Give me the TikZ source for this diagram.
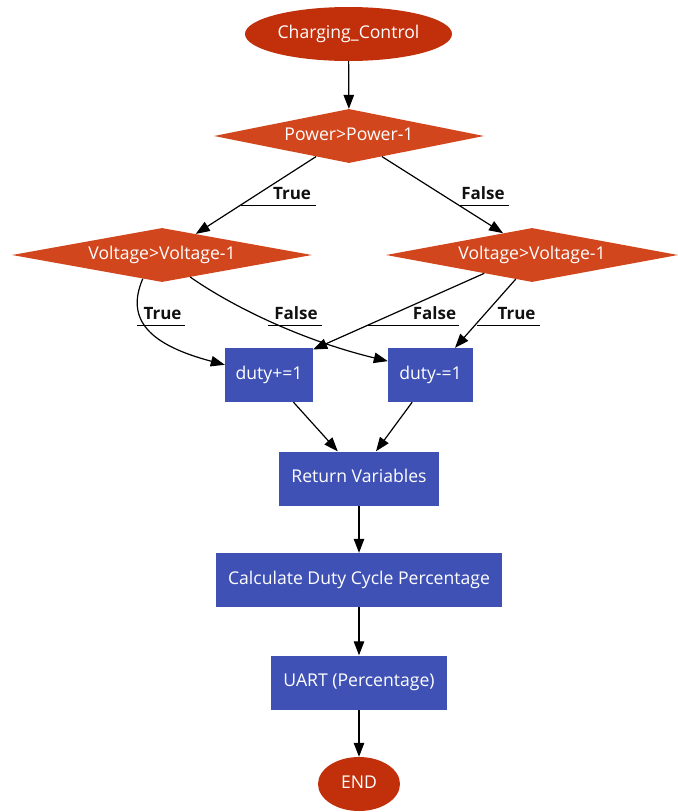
\documentclass[tikz,border=0pt]{standalone}
\usepackage{fontspec}
\setmainfont{Open Sans}
\usetikzlibrary{shapes.geometric,arrows.meta}
\definecolor{termred}{HTML}{C1300B}
\definecolor{decred}{HTML}{D2461D}
\definecolor{stepblue}{HTML}{3F51B5}
\definecolor{labelink}{HTML}{111111}

\begin{document}
\begin{tikzpicture}[x=1pt,y=-1pt,
  nodetext/.style={font=\fontsize{17.6}{20}\selectfont, text=white,
    inner sep=0pt, text height=12.5pt, text depth=4pt},
  term/.style={nodetext, ellipse, fill=termred, minimum width=#1, minimum height=54pt},
  decision/.style={nodetext, diamond, aspect=5, fill=decred, minimum width=#1, minimum height=54pt},
  stepbox/.style={nodetext, rectangle, fill=stepblue, minimum width=#1, minimum height=54pt},
  flow/.style={line width=1.2pt, -{Triangle[length=14pt,width=10.5pt]}},
  tag/.style={font=\bfseries\fontsize{17}{20}\selectfont, text=labelink, inner sep=0pt, anchor=base},
  tagline/.style={line width=0.9pt}
]
\path[use as bounding box] (0,0) rectangle (678,812);

% nodes
\node[term=207pt] (start) at (348.5,34) {Charging\_Control};
\node[decision=270pt] (pw) at (349,136) {Power>Power-1};
\node[decision=300pt] (vl) at (162,255) {Voltage>Voltage-1};
\node[decision=292pt] (vr) at (532,255) {Voltage>Voltage-1};
\node[stepbox=88pt] (dp) at (269,375) {duty+=1};
\node[stepbox=85pt] (dm) at (430.5,375) {duty-=1};
\node[stepbox=160pt] (ret) at (359,478.5) {Return Variables};
\node[stepbox=286pt] (calc) at (359,580) {Calculate Duty Cycle Percentage};
\node[stepbox=176pt] (uart) at (359,682.5) {UART (Percentage)};
\node[term=82pt] (end) at (359,784) {END};

% connectors
\draw[flow] (start) -- (pw);
\draw[flow] (pw.212) -- (vl.32);
\draw[flow] (pw.328) -- (vr.143.5);
\draw[flow] (vl.231.6) .. controls (125,320) and (150,345) .. (dp.167);
\draw[flow] (vl.322.8) .. controls (230,305) and (300,340) .. (dm.162.8);
\draw[flow] (vr.201.8) -- (dp.30);
\draw[flow] (vr.236.3) -- (dm.48);
\draw[flow] (dp.-48) -- (ret.128);
\draw[flow] (dm.-124) -- (ret.58);
\draw[flow] (ret) -- (calc);
\draw[flow] (calc) -- (uart);
\draw[flow] (uart) -- (end);

% branch labels
\node[tag] (t1) at (292,199) {True};
\node[tag] (t2) at (483,199) {False};
\node[tag] (t3) at (162.5,319) {True};
\node[tag] (t4) at (296,319) {False};
\node[tag] (t5) at (434.5,319) {False};
\node[tag] (t6) at (516.5,319) {True};

% label underlines, each starting on its connector
\coordinate (a1) at (241,205);  \coordinate (b1) at (316,205);
\coordinate (a2) at (459,205);  \coordinate (b2) at (509,205);
\coordinate (a3) at (137,325);  \coordinate (b3) at (185,325);
\coordinate (a4) at (268,325);  \coordinate (b4) at (322,325);
\coordinate (a5) at (367,325);  \coordinate (b5) at (459,325);
\coordinate (a6) at (477,325);  \coordinate (b6) at (540,325);
\foreach \i in {1,...,6} \draw[tagline] (a\i) -- (b\i);
\end{tikzpicture}
\end{document}
